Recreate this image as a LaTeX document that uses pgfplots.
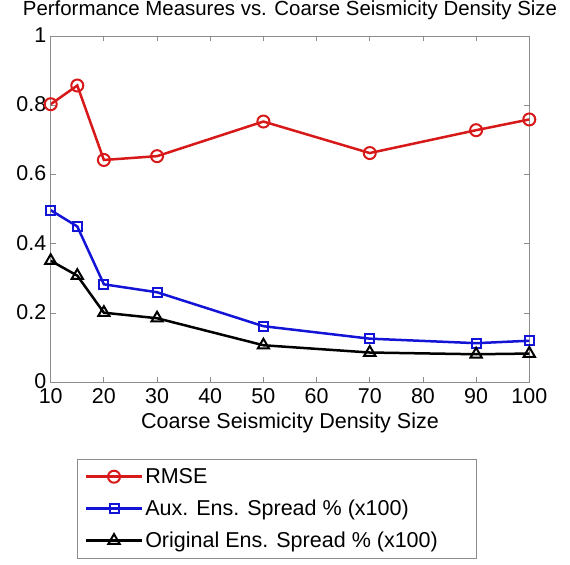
\documentclass[border=0pt]{standalone}
\usepackage{pgfplots}
\pgfplotsset{compat=1.18}
\usepackage{fontspec}
\setmainfont{Liberation Sans}
\definecolor{mred}{RGB}{215,25,25}
\definecolor{mblue}{RGB}{20,20,215}
\newcommand{\fs}{\fontsize{20.5}{24}\selectfont}
\newcommand{\fl}{\fontsize{21.6}{25}\selectfont}
\newcommand{\ft}{\fontsize{21.5}{25}\selectfont}
\begin{document}
\begin{tikzpicture}[x=1bp,y=1bp]
\useasboundingbox (-50.7bp,-182.7bp) rectangle (519.3bp,382.3bp);
\begin{axis}[
  scale only axis,
  width=478.6bp, height=346.3bp,
  xmin=10, xmax=100, ymin=0, ymax=1,
  xtick={10,20,...,100},
  ytick={0,0.2,0.4,0.6,0.8,1},
  yticklabels={0,0.2,0.4,0.6,0.8,1},
  /pgf/number format/assume math mode=true,
  tick align=inside,
  major tick length=5bp,
  axis line style={gray!90, line width=0.9bp},
  tick style={gray!90, line width=0.8bp},
  tick label style={font=\ft},
  xticklabel style={yshift=-2.5bp},
  yticklabel style={xshift=-1bp, yshift=1bp},
  title={Performance Measures vs. Coarse Seismicity Density Size},
  title style={font=\fs, at={(0.5,1)}, anchor=base, yshift=15bp},
  xlabel={Coarse Seismicity Density Size},
  xlabel style={font=\fl, at={(0.5,0)}, anchor=base, yshift=-46bp},
  legend style={font=\fl, at={(0.0556,-0.2215)}, anchor=north west,
    draw=gray!90, line width=0.9bp, inner xsep=7bp, inner ysep=7bp,
    row sep=11bp},
  legend cell align=left,
  legend image code/.code={
    \draw[#1, line width=2.5bp, mark repeat=2, mark phase=2] plot coordinates {(0bp,0bp) (28bp,0bp) (56bp,0bp)};
  },
]
\addplot[mred, line width=2.5bp, mark=o, mark size=6bp, mark options={solid, line width=2bp}]
  coordinates {(10,0.803) (15,0.857) (20,0.642) (30,0.653) (50,0.753) (70,0.662) (90,0.728) (100,0.759)};
\addlegendentry{RMSE}
\addplot[mblue, line width=2.5bp, mark=square, mark size=4.5bp, mark options={solid, line width=2bp}]
  coordinates {(10,0.497) (15,0.450) (20,0.283) (30,0.260) (50,0.162) (70,0.126) (90,0.113) (100,0.120)};
\addlegendentry{Aux. Ens. Spread \% (x100)}
\addplot[black, line width=2.5bp, mark=triangle, mark size=6.5bp, mark options={solid, line width=2bp}]
  coordinates {(10,0.351) (15,0.308) (20,0.201) (30,0.185) (50,0.107) (70,0.086) (90,0.081) (100,0.083)};
\addlegendentry{Original Ens. Spread \% (x100)\hspace*{30bp}}
\end{axis}
\end{tikzpicture}
\end{document}
